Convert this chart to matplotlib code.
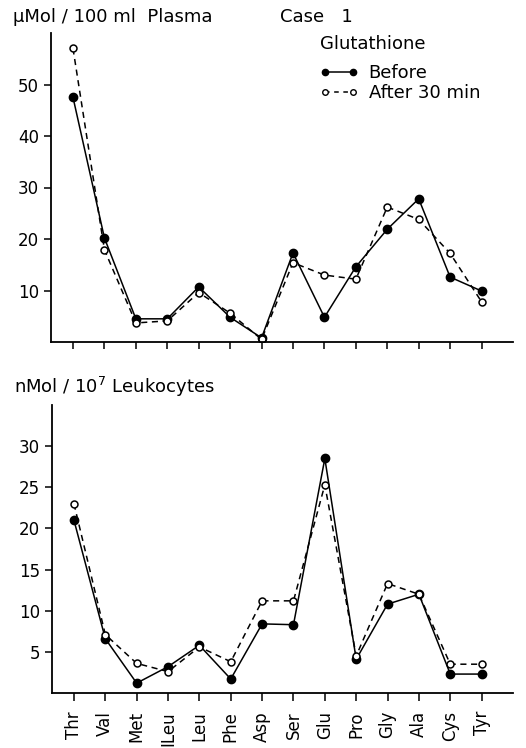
import matplotlib.pyplot as plt
from matplotlib.lines import Line2D
import numpy as np

amino = ['Thr', 'Val', 'Met', 'ILeu', 'Leu', 'Phe', 'Asp', 'Ser',
         'Glu', 'Pro', 'Gly', 'Ala', 'Cys', 'Tyr']

# plasma, umol / 100 ml
plasma_before = [47.5, 20.2, 4.5, 4.5, 10.7, 4.8, 0.8, 17.3, 4.8, 14.6, 21.9, 27.8, 12.6, 9.9]
plasma_after = [57.0, 17.9, 3.7, 4.1, 9.6, 5.6, 0.5, 15.4, 13.0, 12.2, 26.2, 23.8, 17.2, 7.8]

# leukocytes, nmol / 10^7 cells
leuko_before = [21.0, 6.6, 1.2, 3.2, 5.8, 1.7, 8.4, 8.3, 28.5, 4.1, 10.8, 12.0, 2.3, 2.3]
leuko_after = [23.0, 7.1, 3.6, 2.6, 5.6, 3.8, 11.2, 11.2, 25.3, 4.5, 13.3, 12.0, 3.5, 3.5]

plt.rcParams['font.family'] = ['DejaVu Sans']
plt.rcParams['font.size'] = 12

fig = plt.figure(figsize=(5.26, 7.48), dpi=100)
W, H = 526.0, 748.0
ax1 = fig.add_axes([51 / W, (H - 342) / H, (513 - 51) / W, (342 - 33) / H])
ax2 = fig.add_axes([52 / W, (H - 693) / H, (513 - 52) / W, (693 - 405) / H])

x = np.arange(len(amino))

def draw(ax, before, after):
    ax.plot(x, before, '-', color='black', lw=1.1, marker='o', ms=6,
            mfc='black', mec='black')
    ax.plot(x, after, '--', color='black', lw=1.1, marker='o', ms=5,
            mfc='white', mec='black', mew=1.1, dashes=(4, 3))
    ax.spines['top'].set_visible(False)
    ax.spines['right'].set_visible(False)
    ax.spines['left'].set_linewidth(1.3)
    ax.spines['bottom'].set_linewidth(1.3)
    ax.set_xlim(-0.7, 14.0)
    ax.set_xticks(x)
    ax.tick_params(direction='out', length=5, width=1.1, labelsize=12)

draw(ax1, plasma_before, plasma_after)
ax1.set_ylim(0, 60)
ax1.set_yticks([10, 20, 30, 40, 50])
ax1.set_xticklabels([])

handles = [
    Line2D([], [], ls='-', color='black', lw=1.1, marker='o', ms=4.5,
           mfc='black', mec='black'),
    Line2D([], [], ls='--', color='black', lw=1.1, marker='o', ms=4,
           mfc='white', mec='black', dashes=(3, 3)),
]
leg = ax1.legend(handles, ['Before', 'After 30 min'], loc='upper left',
                 bbox_to_anchor=(320 / W, 1 - 35 / H),
                 bbox_transform=fig.transFigure, frameon=False,
                 numpoints=2, title='Glutathione', handlelength=2.1,
                 fontsize=13, title_fontsize=13, labelspacing=0.1,
                 borderpad=0, handletextpad=0.6, borderaxespad=0)
leg._legend_box.align = 'left'
leg._legend_box.sep = 8

draw(ax2, leuko_before, leuko_after)
ax2.set_ylim(0, 35)
ax2.set_yticks([5, 10, 15, 20, 25, 30])
ax2.set_xticklabels(amino, rotation=90, fontsize=12)
ax2.tick_params(axis='x', length=6, pad=7)

fig.text(13 / W, 1 - 17 / H, 'µMol / 100 ml  Plasma', fontsize=13, va='center')
fig.text(280 / W, 1 - 17 / H, 'Case   1', fontsize=13, va='center')
fig.text(14 / W, 1 - 387 / H, 'nMol / 10$^{7}$ Leukocytes', fontsize=13, va='center')

plt.savefig('out.png', dpi=100)
